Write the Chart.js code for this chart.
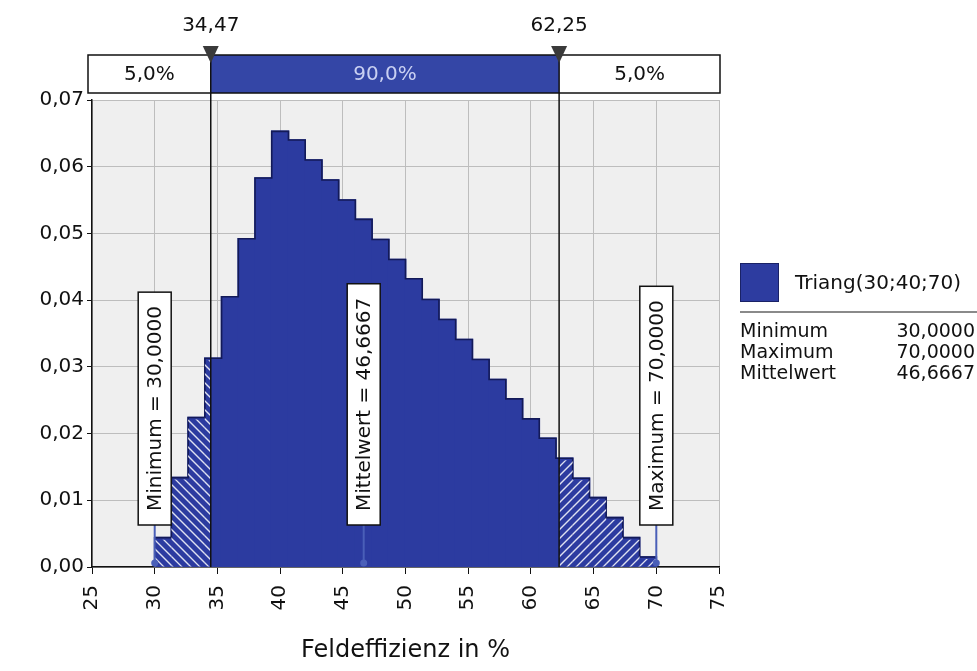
<!DOCTYPE html>
<html>
<head>
<meta charset="utf-8">
<script src="https://cdn.jsdelivr.net/npm/chart.js@4.4.1/dist/chart.umd.min.js"></script>
<style>
    body { margin: 0; background: #fff; font-family: "DejaVu Sans", sans-serif; }
    #wrap { position: relative; width: 977px; height: 671px; }
    #legend { position: absolute; left: 740px; top: 262px; width: 237px; color: #111; font-size: 19px; }
    #legend .head { display: flex; align-items: center; height: 40px; font-size: 20px; }
    #legend .box { width: 39px; height: 39px; background: #2d3ca0; border: 1px solid #1a2266; margin-right: 16px; box-sizing: border-box; flex: none; }
    #legend .rule { border-top: 2px solid #8a8a8a; margin-top: 9px; margin-bottom: 7px; }
    #legend .row { display: flex; justify-content: space-between; height: 21px; line-height: 21px; padding-right: 2px; }
</style>
</head>
<body>
<div id="wrap">
    <canvas id="histChart" width="977" height="671"></canvas>
    <div id="legend"></div>
</div>
<script>
// Histogram bins (centre of each bin) and relative frequencies
const binCenters = [30.667, 32.000, 33.333, 34.667, 36.000, 37.333, 38.667, 40.000,
    41.333, 42.667, 44.000, 45.333, 46.667, 48.000, 49.333, 50.667, 52.000, 53.333,
    54.667, 56.000, 57.333, 58.667, 60.000, 61.333, 62.667, 64.000, 65.333, 66.667,
    68.000, 69.333];
const binValues = [0.0044, 0.0134, 0.0224, 0.0313, 0.0405, 0.0492, 0.0583, 0.0653,
    0.0640, 0.0610, 0.0580, 0.0550, 0.0521, 0.0491, 0.0461, 0.0432, 0.0401, 0.0371,
    0.0341, 0.0311, 0.0281, 0.0252, 0.0222, 0.0193, 0.0163, 0.0133, 0.0104, 0.0074,
    0.0044, 0.0015];

// Axis ticks
const xTicks = [25, 30, 35, 40, 45, 50, 55, 60, 65, 70, 75];
const yTicks = [0, 0.01, 0.02, 0.03, 0.04, 0.05, 0.06, 0.07];

// 5% / 95% bounds and the shares between them
const percentileBounds = [34.47, 62.25];
const percentileLabels = ['34,47', '62,25'];
const percentileShares = ['5,0%', '90,0%', '5,0%'];

// Marker labels on the x axis
const markerValues = [30, 46.6667, 70];
const markerLabels = ['Minimum = 30,0000', 'Mittelwert = 46,6667', 'Maximum = 70,0000'];

// Legend statistics
const legendName = 'Triang(30;40;70)';
const statNames = ['Minimum', 'Maximum', 'Mittelwert'];
const statValues = ['30,0000', '70,0000', '46,6667'];

const FONT = '"DejaVu Sans", sans-serif';
const BAR_BLUE = '#2c3ba0';


// Build legend
function buildLegend() {

    const legend = document.getElementById('legend');

    let html = '<div class="head"><div class="box"></div><span>' + legendName + '</span></div>';
    html += '<div class="rule"></div>';

    for (let i = 0; i < statNames.length; i++) {
        html += '<div class="row"><span>' + statNames[i] + '</span><span>' + statValues[i] + '</span></div>';
    }

    legend.innerHTML = html;
}


// Grey plot background
const plotBackground = {
    id: 'plotBackground',
    beforeDraw(chart) {
        const a = chart.chartArea;
        const ctx = chart.ctx;
        ctx.save();
        ctx.fillStyle = '#efefef';
        ctx.fillRect(a.left, a.top, a.right - a.left, a.bottom - a.top);
        ctx.restore();
    }
};


// Step outline and hatching on the bars outside the 90% band
const tailHatch = {
    id: 'tailHatch',
    afterDatasetsDraw(chart) {
        const ctx = chart.ctx;
        const xs = chart.scales.x;
        const lowPx = xs.getPixelForValue(percentileBounds[0]);
        const highPx = xs.getPixelForValue(percentileBounds[1]);
        const bars = chart.getDatasetMeta(0).data;

        ctx.save();

        // dark step outline along the bar tops
        ctx.strokeStyle = '#131a58';
        ctx.lineWidth = 1.6;
        ctx.beginPath();
        bars.forEach((bar, i) => {
            const p = bar.getProps(['x', 'y', 'base', 'width'], true);
            const left = p.x - p.width / 2;
            const right = p.x + p.width / 2;
            if (i === 0) {
                ctx.moveTo(left, p.base);
            }
            ctx.lineTo(left, p.y);
            ctx.lineTo(right, p.y);
            if (i === bars.length - 1) {
                ctx.lineTo(right, p.base);
            }
        });
        ctx.stroke();

        ctx.strokeStyle = 'rgba(255,255,255,0.85)';
        ctx.lineWidth = 1.3;

        bars.forEach(bar => {
            const p = bar.getProps(['x', 'y', 'base', 'width'], true);
            const left = p.x - p.width / 2;
            const right = p.x + p.width / 2;

            const parts = [
                { l: left, r: Math.min(right, lowPx), dir: 1 },
                { l: Math.max(left, highPx), r: right, dir: -1 }
            ];

            parts.forEach(part => {
                if (part.r <= part.l) return;
                ctx.save();
                ctx.beginPath();
                ctx.rect(part.l, p.y + 2, part.r - part.l, p.base - p.y - 2);
                ctx.clip();
                ctx.beginPath();
                for (let k = -700; k < 1400; k += 9) {
                    if (part.dir > 0) {
                        ctx.moveTo(k, 0);
                        ctx.lineTo(k + 700, 700);
                    } else {
                        ctx.moveTo(k, 700);
                        ctx.lineTo(k + 700, 0);
                    }
                }
                ctx.stroke();
                ctx.restore();
            });
        });

        ctx.restore();
    }
};


// Percentile band, bound lines and marker boxes
const overlays = {
    id: 'overlays',
    afterDraw(chart) {
        const ctx = chart.ctx;
        const xs = chart.scales.x;
        const ys = chart.scales.y;
        const a = chart.chartArea;

        const bandTop = 55;
        const bandBottom = 93;
        const bandLeft = a.left - 4;
        const bandRight = a.right + 1;
        const lowPx = xs.getPixelForValue(percentileBounds[0]);
        const highPx = xs.getPixelForValue(percentileBounds[1]);

        ctx.save();

        // band
        ctx.fillStyle = '#fff';
        ctx.fillRect(bandLeft, bandTop, bandRight - bandLeft, bandBottom - bandTop);
        ctx.fillStyle = '#3446a6';
        ctx.fillRect(lowPx, bandTop, highPx - lowPx, bandBottom - bandTop);
        ctx.strokeStyle = '#111';
        ctx.lineWidth = 1.5;
        ctx.strokeRect(bandLeft, bandTop, bandRight - bandLeft, bandBottom - bandTop);

        ctx.font = '20px ' + FONT;
        ctx.textAlign = 'center';
        ctx.textBaseline = 'middle';
        const mid = (bandTop + bandBottom) / 2 + 1;
        ctx.fillStyle = '#111';
        ctx.fillText(percentileShares[0], (bandLeft + lowPx) / 2, mid);
        ctx.fillText(percentileShares[2], (highPx + bandRight) / 2, mid);
        ctx.fillStyle = '#c9d0f2';
        ctx.fillText(percentileShares[1], (lowPx + highPx) / 2, mid);

        // bound lines, triangles, labels
        [lowPx, highPx].forEach((px, i) => {
            ctx.strokeStyle = '#111';
            ctx.lineWidth = 1.5;
            ctx.beginPath();
            ctx.moveTo(px, bandTop);
            ctx.lineTo(px, a.bottom);
            ctx.stroke();

            ctx.fillStyle = '#3a3a3a';
            ctx.beginPath();
            ctx.moveTo(px - 8, bandTop - 9);
            ctx.lineTo(px + 8, bandTop - 9);
            ctx.lineTo(px, bandTop + 8);
            ctx.closePath();
            ctx.fill();

            ctx.fillStyle = '#111';
            ctx.font = '20px ' + FONT;
            ctx.fillText(percentileLabels[i], px, 26);
        });

        // marker boxes
        ctx.font = '20px ' + FONT;
        markerValues.forEach((v, i) => {
            const px = xs.getPixelForValue(v);
            const py = ys.getPixelForValue(0);
            const tw = ctx.measureText(markerLabels[i]).width;
            const boxW = 33;
            const boxH = tw + 28;
            const boxBottom = py - 42;

            ctx.strokeStyle = '#4a5fb8';
            ctx.lineWidth = 2;
            ctx.beginPath();
            ctx.moveTo(px, boxBottom);
            ctx.lineTo(px, py - 2);
            ctx.stroke();

            ctx.fillStyle = '#4a5fb8';
            ctx.beginPath();
            ctx.arc(px, py - 4, 3.5, 0, Math.PI * 2);
            ctx.fill();

            ctx.fillStyle = '#fff';
            ctx.fillRect(px - boxW / 2, boxBottom - boxH, boxW, boxH);
            ctx.strokeStyle = '#111';
            ctx.lineWidth = 1.5;
            ctx.strokeRect(px - boxW / 2, boxBottom - boxH, boxW, boxH);

            ctx.save();
            ctx.translate(px + 1, boxBottom - boxH / 2);
            ctx.rotate(-Math.PI / 2);
            ctx.fillStyle = '#111';
            ctx.textAlign = 'center';
            ctx.textBaseline = 'middle';
            ctx.fillText(markerLabels[i], 0, 0);
            ctx.restore();
        });

        ctx.restore();
    }
};


// Create histogram chart
function createHistogram() {

    const ctx = document.getElementById('histChart').getContext('2d');

    const points = binCenters.map((x, i) => ({ x: x, y: binValues[i] }));

    new Chart(ctx, {
        type: 'bar',

        data: {
            datasets: [{
                label: legendName,
                data: points,
                backgroundColor: BAR_BLUE,
                borderWidth: 0,
                inflateAmount: 0.8,
                barPercentage: 1,
                categoryPercentage: 1
            }]
        },

        options: {
            responsive: false,
            animation: false,
            layout: {
                padding: { top: 100, right: 258, left: 0, bottom: 0 }
            },
            plugins: {
                legend: { display: false },
                tooltip: { enabled: false }
            },
            scales: {
                x: {
                    type: 'linear',
                    offset: false,
                    min: xTicks[0],
                    max: xTicks[xTicks.length - 1],
                    afterBuildTicks: s => { s.ticks = xTicks.map(v => ({ value: v })); },
                    afterFit: s => { s.height = 104; },
                    ticks: {
                        minRotation: 90,
                        maxRotation: 90,
                        autoSkip: false,
                        padding: 11,
                        color: '#111',
                        font: { family: FONT, size: 20 }
                    },
                    grid: { offset: false, color: '#bdbdbd', tickColor: '#111', tickLength: 7 },
                    border: { color: '#111', width: 1.5 },
                    title: {
                        display: true,
                        text: 'Feldeffizienz in %',
                        color: '#111',
                        font: { family: FONT, size: 24 },
                        padding: { top: 2, bottom: 6 }
                    }
                },
                y: {
                    min: 0,
                    max: 0.07,
                    afterBuildTicks: s => { s.ticks = yTicks.map(v => ({ value: v })); },
                    afterFit: s => { s.width = 92; },
                    ticks: {
                        padding: 3,
                        color: '#111',
                        font: { family: FONT, size: 20 },
                        callback: v => v.toFixed(2).replace('.', ',')
                    },
                    grid: { color: '#bdbdbd', tickColor: '#111', tickLength: 5 },
                    border: { color: '#111', width: 1.5 }
                }
            }
        },

        plugins: [plotBackground, tailHatch, overlays]
    });
}


buildLegend();
createHistogram();
</script>
</body>
</html>
